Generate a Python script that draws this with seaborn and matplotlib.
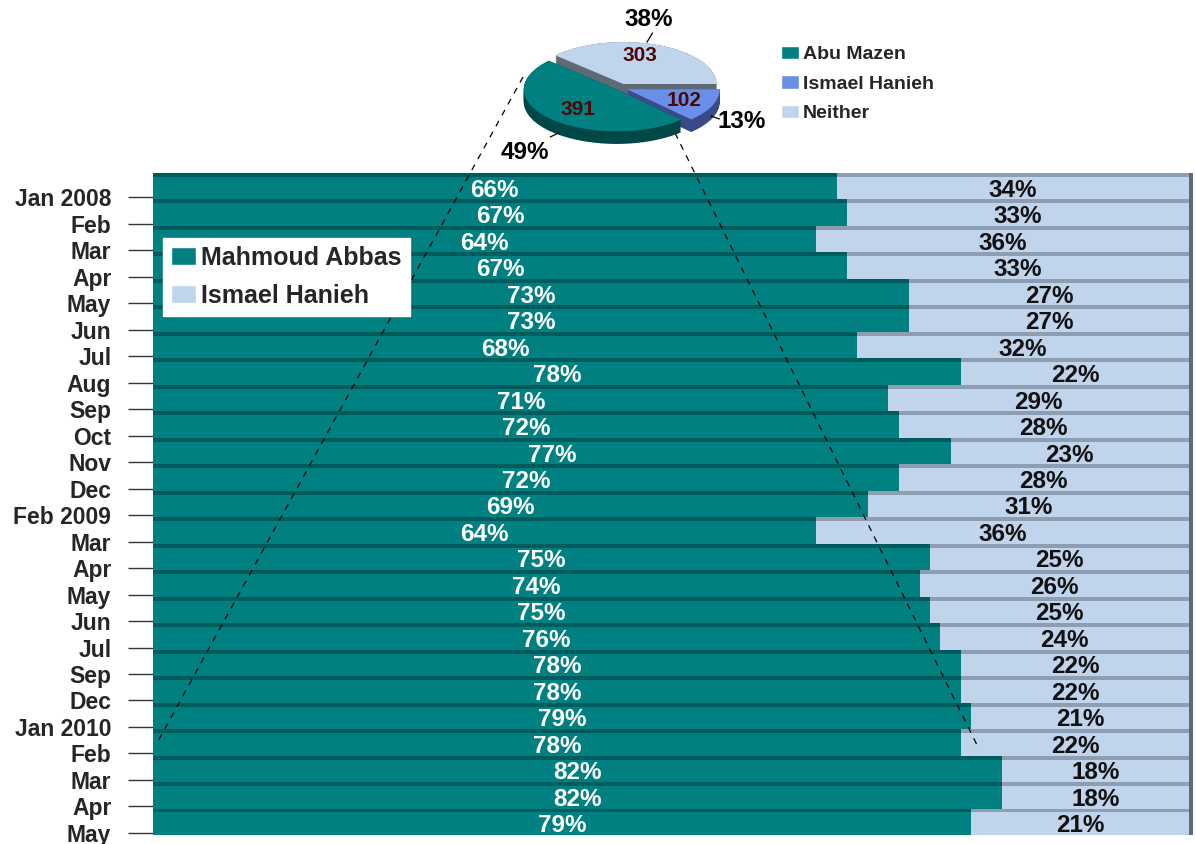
import numpy as np
import pandas as pd
import matplotlib
matplotlib.use("Agg")
import matplotlib.pyplot as plt
import seaborn as sns
from matplotlib.lines import Line2D
from matplotlib.patches import Patch

# ---------------- data ----------------
months = ["Jan 2008", "Feb", "Mar", "Apr", "May", "Jun", "Jul", "Aug", "Sep",
          "Oct", "Nov", "Dec", "Feb 2009", "Mar", "Apr", "May", "Jun", "Jul",
          "Sep", "Dec", "Jan 2010", "Feb", "Mar", "Apr", "May"]
abbas = [66, 67, 64, 67, 73, 73, 68, 78, 71, 72, 77, 72, 69, 64, 75, 74, 75,
         76, 78, 78, 79, 78, 82, 82, 79]
hanieh = [34, 33, 36, 33, 27, 27, 32, 22, 29, 28, 23, 28, 31, 36, 25, 26, 25,
          24, 22, 22, 21, 22, 18, 18, 21]
bar_series = ["Mahmoud Abbas", "Ismael Hanieh"]

pie_names = ["Abu Mazen", "Ismael Hanieh", "Neither"]
pie_counts = [391, 102, 303]
pie_pcts = [49, 13, 38]

# ---------------- style ----------------
sns.set_theme(style="white")
plt.rcParams["font.family"] = ["Liberation Sans", "DejaVu Sans"]
plt.rcParams["font.weight"] = "bold"

TEAL, TEAL_TOP = "#008080", "#005c5c"
BLUE, BLUE_TOP = "#C0D4EC", "#8D9DB2"
SIDE = "#5E6979"
PIE_TOP = ["#008080", "#6A8FE8", "#C0D4EC"]
PIE_SIDE = ["#004848", "#3A4A88", "#5F6A78"]

W, H = 1196, 844
fig = plt.figure(figsize=(W / 100, H / 100), dpi=100)

# ---------------- main stacked bars ----------------
n = len(months)
df = pd.DataFrame({"row": np.arange(n), "abbas": abbas,
                   "total": np.array(abbas) + np.array(hanieh)})

ax = fig.add_axes([153 / W, (H - 835) / H, (1193 - 153) / W, (835 - 173) / H])
sns.barplot(data=df, x="total", y="row", orient="h", color=BLUE, width=1.0,
            saturation=1, linewidth=0, ax=ax)
sns.barplot(data=df, x="abbas", y="row", orient="h", color=TEAL, width=1.0,
            saturation=1, linewidth=0, ax=ax)
# 3D-like top strips and right side
ax.barh(df["row"] - 0.425, df["total"], height=0.15, color=BLUE_TOP, linewidth=0)
ax.barh(df["row"] - 0.425, df["abbas"], height=0.15, color=TEAL_TOP, linewidth=0)
ax.barh(df["row"], 0.4, left=df["total"], height=1.0, color=SIDE, linewidth=0)

for i, (a, h) in enumerate(zip(abbas, hanieh)):
    ax.text(a / 2, i + 0.15, f"{a}%", color="white", ha="center", va="center",
            fontsize=17.5, fontweight="bold", zorder=6)
    ax.text(a + h / 2, i + 0.15, f"{h}%", color="#111111", ha="center",
            va="center", fontsize=17.5, fontweight="bold", zorder=6)

ax.set_xlim(0, 100.4)
ax.set_ylim(n - 0.5, -0.5)
ax.set_yticks(np.arange(n) + 0.42, labels=months)
ax.set_xticks([])
ax.set_xlabel("")
ax.set_ylabel("")
ax.tick_params(axis="y", left=True, length=18, width=1.0, color="#333333",
               pad=12, labelsize=16.5, direction="out")
for lab in ax.get_yticklabels():
    lab.set_fontweight("bold")
for s in ax.spines.values():
    s.set_visible(False)

leg = ax.legend(handles=[Patch(facecolor=TEAL), Patch(facecolor=BLUE)],
                labels=bar_series, loc="upper left",
                bbox_to_anchor=(163 / W, 1 - 238 / H), bbox_transform=fig.transFigure,
                frameon=True, fancybox=False, framealpha=1, edgecolor="white",
                prop={"size": 18, "weight": "bold"}, handlelength=1.0,
                handleheight=0.75, handletextpad=0.2, labelspacing=0.55,
                borderpad=0.32, borderaxespad=0)
leg.set_zorder(10)

# dashed connector lines (figure coordinates)
for (x0, y0), (x1, y1) in [((523, 77), (157, 743)), ((675, 133), (978, 747))]:
    ax.add_line(Line2D([x0 / W, x1 / W], [1 - y0 / H, 1 - y1 / H],
                       transform=fig.transFigure, color="black", lw=0.9,
                       ls=(0, (5, 5)), clip_on=False, zorder=4))

# ---------------- 3D pie ----------------
pax = fig.add_axes([515 / W, 1 - 150 / H, 210 / W, 120 / H])
explode = [0.05, 0.08, 0.1]
depth = 0.3
for d in np.linspace(depth, 0.0, 16):
    pax.pie(pie_counts, explode=explode, startangle=137, colors=PIE_SIDE,
            center=(0, -d), wedgeprops=dict(linewidth=0))
wedges, _ = pax.pie(pie_counts, explode=explode, startangle=137,
                    colors=PIE_TOP, wedgeprops=dict(linewidth=0))
pax.set_aspect("auto")
pax.set_xlim(-1.13, 1.13)
pax.set_ylim(-1.48, 1.38)
pax.axis("off")

count_pos = [(-0.45, -0.52), (0.69, -0.31), (0.21, 0.78)]
pct_pos = [(-1.02, -1.55), (1.31, -0.79), (0.31, 1.64)]
leaders = [((-0.75, -1.17), (-0.66, -1.07)), ((0.98, -0.67), (1.07, -0.74)),
           ((0.35, 1.31), (0.29, 1.09))]
for c, p, cp, pp, (l0, l1) in zip(pie_counts, pie_pcts, count_pos, pct_pos, leaders):
    pax.text(*cp, f"{c}", color="#4B0808", ha="center", va="center",
             fontsize=15, fontweight="bold")
    pax.text(*pp, f"{p}%", color="black", ha="center", va="center",
             fontsize=17.5, fontweight="bold", clip_on=False)
    pax.plot([l0[0], l1[0]], [l0[1], l1[1]], color="black", lw=0.9, clip_on=False)

fig.legend(handles=[Patch(facecolor=c) for c in PIE_TOP], labels=pie_names,
           loc="upper left", bbox_to_anchor=(781 / W, 1 - 46 / H),
           frameon=False, prop={"size": 14, "weight": "bold"},
           handlelength=0.93, handleheight=0.67, handletextpad=0.2,
           labelspacing=0.62, borderpad=0, borderaxespad=0)

fig.savefig("out.png", dpi=100)
